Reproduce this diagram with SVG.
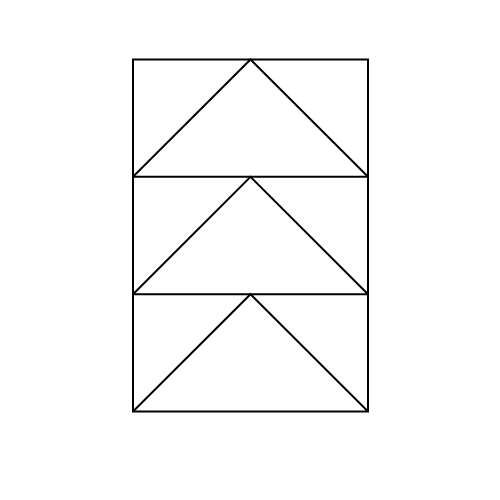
<svg xmlns="http://www.w3.org/2000/svg" width="500" height="500" viewBox="0 0 500 500">
<style>.s{fill:none;stroke:#000;stroke-width:2;stroke-linejoin:miter}</style>
<rect width="500" height="500" fill="#fff"/>
<g id="frame"><rect class="s" x="133" y="59.5" width="235" height="352"/></g>
<g id="tier1"><polyline class="s" points="133,176.8 250.5,59.5 368,176.8"/><line class="s" x1="133" y1="176.8" x2="368" y2="176.8"/></g>
<g id="tier2"><polyline class="s" points="133,294.2 250.5,176.8 368,294.2"/><line class="s" x1="133" y1="294.2" x2="368" y2="294.2"/></g>
<g id="tier3"><polyline class="s" points="133,411.5 250.5,294.2 368,411.5"/></g>
</svg>
